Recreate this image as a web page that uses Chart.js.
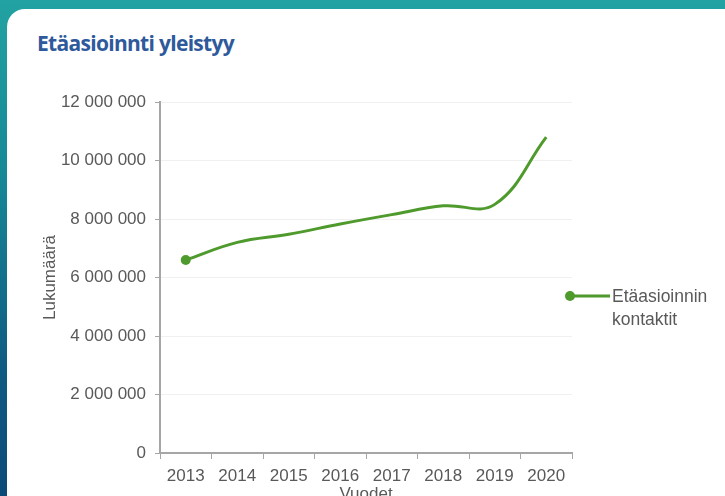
<!DOCTYPE html>
<html>
<head>
<meta charset="utf-8">
<script src="https://cdn.jsdelivr.net/npm/chart.js@4/dist/chart.umd.min.js"></script>
<style>
  html, body {
    margin: 0;
    width: 725px;
    height: 496px;
    overflow: hidden;
    background: linear-gradient(to bottom, #22a2a2 0%, #168896 35%, #0f5a82 75%, #0c4a78 100%);
    font-family: "Liberation Sans", Arial, sans-serif;
  }
  #card {
    position: absolute;
    left: 7px;
    top: 9px;
    width: 740px;
    height: 510px;
    background: #fff;
    border-radius: 18px;
  }
  #otsikko {
    position: absolute;
    left: 37px;
    top: 29px;
    margin: 0;
    font-family: "Open Sans", sans-serif;
    font-weight: 700;
    font-size: 21px;
    letter-spacing: -0.7px;
    color: #2e5a9c;
  }
  #wrap {
    position: absolute;
    left: 0;
    top: 0;
    width: 725px;
    height: 520px;
  }
</style>
</head>
<body>
<div id="card"></div>
<h1 id="otsikko">Etäasioinnti yleistyy</h1>
<div id="wrap"><canvas id="lineChart"></canvas></div>

<script>
var vuodet = ['2013', '2014', '2015', '2016', '2017', '2018', '2019', '2020'];
var kontaktit = [6600000, 7200000, 7480000, 7830000, 8150000, 8450000, 8500000, 10800000];
var sarjanNimi = 'Etäasioinnin kontaktit';
var yMax = 12000000;
var yStep = 2000000;

var vihrea = '#4f9a2c';
var harmaa = '#595959';
var fontti = '"Liberation Sans", Arial, sans-serif';

// legend on the right: dot, short line and the two-line label
var sivuSelite = {
  id: 'sivuSelite',
  afterDraw: function(chart) {
    var c = chart.ctx;
    var ds = chart.data.datasets[0];
    var x = 570, y = 296;
    c.save();
    c.strokeStyle = ds.borderColor;
    c.lineWidth = 3;
    c.beginPath();
    c.moveTo(x, y);
    c.lineTo(x + 40, y);
    c.stroke();
    c.fillStyle = ds.borderColor;
    c.beginPath();
    c.arc(x, y, 5, 0, Math.PI * 2);
    c.fill();
    c.fillStyle = harmaa;
    c.font = '17.5px ' + fontti;
    c.textBaseline = 'middle';
    var rivit = ds.label.split(' ');
    rivit.forEach(function(r, i) {
      c.fillText(r, x + 42, y + 1 + i * 23);
    });
    c.restore();
  }
};

var ctx = document.getElementById('lineChart').getContext('2d');
var chart = new Chart(ctx, {
  type: 'line',
  data: {
    labels: vuodet,
    datasets: [{
      label: sarjanNimi,
      data: kontaktit,
      borderColor: vihrea,
      backgroundColor: vihrea,
      borderWidth: 3,
      tension: 0.4,
      pointRadius: function(c) { return c.dataIndex === 0 ? 5 : 0; },
      pointBorderWidth: 0
    }]
  },
  options: {
    responsive: true,
    maintainAspectRatio: false,
    animation: false,
    layout: {
      padding: { left: 40, right: 153, top: 102, bottom: 15 }
    },
    plugins: {
      legend: { display: false },
      tooltip: { enabled: false }
    },
    scales: {
      x: {
        offset: true,
        grid: {
          offset: true,
          drawOnChartArea: false,
          drawTicks: true,
          tickLength: 6,
          color: '#a6a6a6'
        },
        border: { color: '#a6a6a6', width: 2 },
        ticks: {
          color: harmaa,
          font: { size: 17, family: fontti },
          padding: 7,
          maxRotation: 0
        },
        title: {
          display: true,
          text: 'Vuodet',
          color: harmaa,
          font: { size: 17, family: fontti },
          padding: { top: 0, bottom: 0 }
        },
        afterFit: function(s) { s.height = 52; }
      },
      y: {
        min: 0,
        max: yMax,
        ticks: {
          stepSize: yStep,
          color: harmaa,
          font: { size: 17, family: fontti },
          padding: 9,
          callback: function(v) {
            return String(v).replace(/\B(?=(\d{3})+(?!\d))/g, ' ');
          }
        },
        grid: {
          color: function(c) { return c.tick.value === 0 ? 'rgba(0,0,0,0)' : '#f0f0f0'; },
          tickColor: '#a6a6a6',
          tickLength: 5
        },
        border: { color: '#a6a6a6', width: 2 },
        title: {
          display: true,
          text: 'Lukumäärä',
          color: harmaa,
          font: { size: 17, family: fontti },
          padding: { top: 0, bottom: 0 }
        },
        afterFit: function(s) { s.width = 120; }
      }
    }
  },
  plugins: [sivuSelite]
});
</script>
</body>
</html>
